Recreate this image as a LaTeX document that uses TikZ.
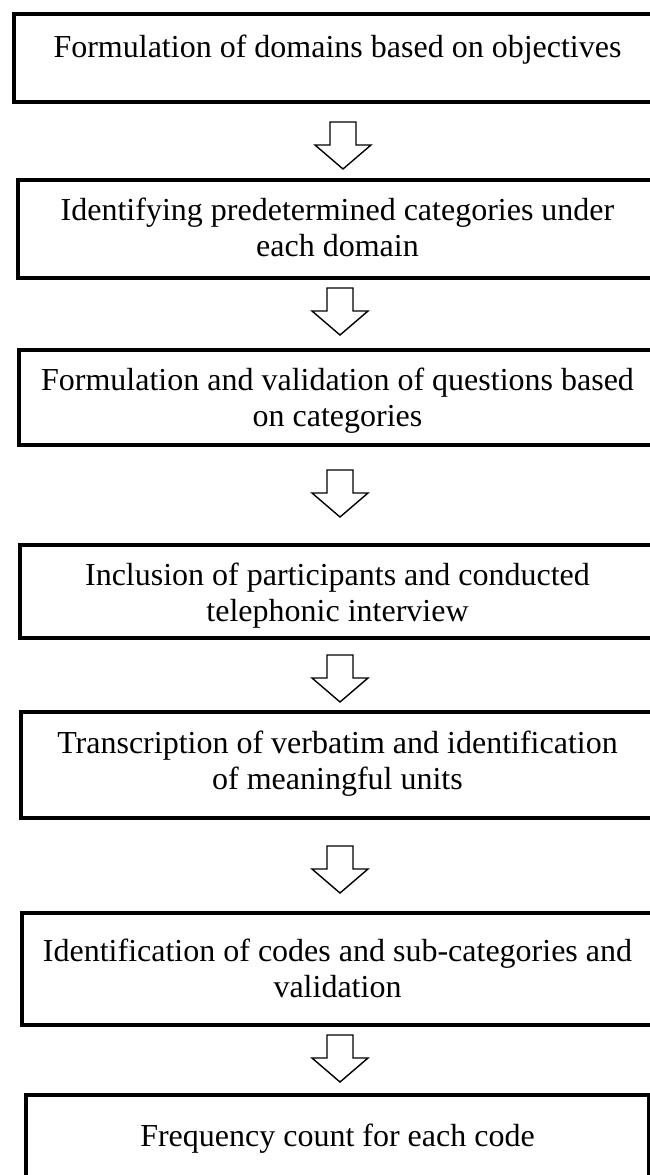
\documentclass[tikz,border=0pt]{standalone}
\usepackage{fontspec}
\setmainfont{Liberation Serif}
\begin{document}
\begin{tikzpicture}[x=1pt,y=-1pt,
  stepbox/.style={draw=black,line width=4pt,rectangle,inner sep=0pt},
  steptext/.style={anchor=base,align=center,inner sep=0pt,
    font=\fontsize{32}{36}\selectfont},
  arrowline/.style={draw=black,fill=white,line width=1.4pt,line join=miter},
  pics/downarrow/.style={code={
    \draw[arrowline] (-13,0) -- (-13,23) -- (-28,23) -- (0,47)
      -- (28,23) -- (13,23) -- (13,0) -- cycle;}}]
\useasboundingbox (0,0) rectangle (650,1175);
\clip (0,0) rectangle (650,1175);

% process boxes, centred on the common axis
\node[stepbox,minimum width=647pt,minimum height=88pt] (b1) at (337.5,58) {};
\node[stepbox,minimum width=639pt,minimum height=98pt] (b2) at (337.5,229) {};
\node[stepbox,minimum width=637pt,minimum height=95pt] (b3) at (337.5,397.5) {};
\node[stepbox,minimum width=635pt,minimum height=93pt] (b4) at (337.5,591.5) {};
\node[stepbox,minimum width=633pt,minimum height=106pt] (b5) at (337.5,765) {};
\node[stepbox,minimum width=631pt,minimum height=112pt] (b6) at (337.5,969) {};
\node[stepbox,minimum width=623pt,minimum height=100pt] (b7) at (337.5,1145) {};

% step texts (anchored at the baseline of their last line)
\node[steptext] (t1) at (337.5,57) {Formulation of domains based on objectives};
\node[steptext] (t2) at (337.5,256) {Identifying predetermined categories under\\each domain};
\node[steptext] (t3) at (337.5,426) {Formulation and validation of questions based\\on categories};
\node[steptext] (t4) at (337.5,621) {Inclusion of participants and conducted\\telephonic interview};
\node[steptext] (t5) at (337.5,789) {Transcription of verbatim and identification\\of meaningful units};
\node[steptext] (t6) at (337.5,997) {Identification of codes and sub-categories and\\validation};
\node[steptext] (t7) at (337.5,1146) {Frequency count for each code};

% block arrows between steps
\pic at (343,122) {downarrow};
\pic at (340,288) {downarrow};
\pic at (340,470) {downarrow};
\pic at (340,655) {downarrow};
\pic at (340,846) {downarrow};
\pic at (340,1035) {downarrow};
\end{tikzpicture}
\end{document}
